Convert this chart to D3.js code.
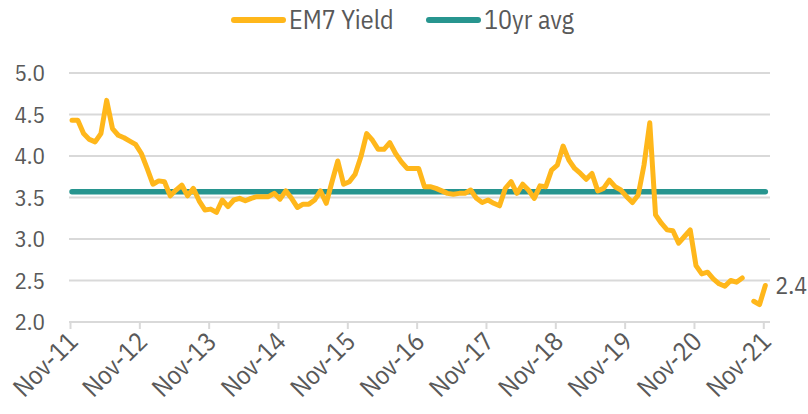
<!DOCTYPE html>
<html>
<head>
<meta charset="utf-8">
<script src="https://cdn.jsdelivr.net/npm/d3@7"></script>
<style>
  html, body { margin: 0; padding: 0; background: #fff; }
  svg text { font-family: "IBM Plex Sans Condensed", "Roboto Condensed", "Liberation Sans Narrow", "DejaVu Sans Condensed", Roboto, sans-serif; fill: #595959; }
</style>
</head>
<body>
<div id="chart"></div>
<script>
// ---------- data ----------
var tickLabels = ["Nov-11", "Nov-12", "Nov-13", "Nov-14", "Nov-15", "Nov-16",
                  "Nov-17", "Nov-18", "Nov-19", "Nov-20", "Nov-21"];
var yTicks = [2.0, 2.5, 3.0, 3.5, 4.0, 4.5, 5.0];
var seriesNames = ["EM7 Yield", "10yr avg"];

// monthly EM7 yield, Nov-11 .. Nov-21 (null = missing month)
var em7Yield = [
  4.43, 4.43, 4.27, 4.20, 4.17, 4.27, 4.67, 4.33, 4.25, 4.22, 4.18, 4.14,
  4.03, 3.85, 3.66, 3.70, 3.69, 3.52, 3.59, 3.65, 3.52, 3.61, 3.46, 3.35,
  3.36, 3.32, 3.47, 3.39, 3.47, 3.49, 3.46, 3.49, 3.51, 3.51, 3.51, 3.55,
  3.48, 3.58, 3.49, 3.38, 3.42, 3.42, 3.47, 3.58, 3.43, 3.69, 3.94, 3.66,
  3.69, 3.78, 3.99, 4.27, 4.19, 4.08, 4.08, 4.16, 4.03, 3.93, 3.85, 3.85,
  3.85, 3.63, 3.63, 3.61, 3.58, 3.55, 3.54, 3.55, 3.55, 3.59, 3.49, 3.44,
  3.47, 3.43, 3.40, 3.61, 3.69, 3.55, 3.66, 3.59, 3.49, 3.64, 3.63, 3.83,
  3.89, 4.12, 3.95, 3.85, 3.79, 3.72, 3.79, 3.58, 3.61, 3.71, 3.63, 3.59,
  3.51, 3.44, 3.53, 3.89, 4.40, 3.29, 3.19, 3.11, 3.10, 2.95, 3.03, 3.11,
  2.68, 2.58, 2.60, 2.52, 2.46, 2.43, 2.50, 2.48, 2.53, null, 2.25, 2.21,
  2.44
];
var avg10yr = 3.57;
var lastLabel = "2.4";

var colors = ["#ffb71b", "#27958f"];

// ---------- setup ----------
var width = 808, height = 414;
var svg = d3.select("#chart").append("svg")
    .attr("width", width)
    .attr("height", height);

var x = d3.scaleLinear().domain([0, 120]).range([70, 763.3]);
var y = d3.scaleLinear().domain([2, 5]).range([322, 73]);
var pointShift = 0.35; // points sit a little after the month tick

// ---------- gridlines ----------
svg.append("g")
   .selectAll("line")
   .data(yTicks)
   .enter().append("line")
   .attr("x1", 69).attr("x2", 770)
   .attr("y1", function(d) { return y(d); })
   .attr("y2", function(d) { return y(d); })
   .attr("stroke", "#d9d9d9")
   .attr("stroke-width", 2);

// ---------- y axis labels ----------
svg.append("g")
   .selectAll("text")
   .data(yTicks)
   .enter().append("text")
   .attr("x", 45)
   .attr("y", function(d) { return y(d); })
   .attr("dy", "0.35em")
   .attr("text-anchor", "end")
   .style("font-size", "23px")
   .text(function(d) { return d.toFixed(1); });

// ---------- x axis ----------
var xAxis = d3.axisBottom(x)
    .tickValues(d3.range(0, 121, 12))
    .tickSize(7)
    .tickFormat(function(d, i) { return tickLabels[i]; });

var gx = svg.append("g")
    .attr("transform", "translate(0," + y(2) + ")")
    .call(xAxis);
gx.select(".domain").remove();
gx.selectAll(".tick line").attr("stroke", "#d9d9d9").attr("stroke-width", 2);
gx.selectAll(".tick text")
  .attr("text-anchor", "end")
  .attr("dy", null)
  .attr("y", null)
  .attr("transform", "translate(9,21) rotate(-45)")
  .style("font-size", "26px")
  .style("font-family", null)
  .attr("fill", "#595959");

// ---------- 10yr average ----------
svg.append("line")
   .attr("x1", x(pointShift))
   .attr("x2", x(120 + pointShift))
   .attr("y1", y(avg10yr))
   .attr("y2", y(avg10yr))
   .attr("stroke", colors[1])
   .attr("stroke-width", 5.5)
   .attr("stroke-linecap", "round");

// ---------- EM7 yield ----------
var line = d3.line()
    .defined(function(d) { return d != null; })
    .x(function(d, i) { return x(i + pointShift); })
    .y(function(d) { return y(d); });

svg.append("path")
   .datum(em7Yield)
   .attr("d", line)
   .attr("fill", "none")
   .attr("stroke", colors[0])
   .attr("stroke-width", 5)
   .attr("stroke-linejoin", "round")
   .attr("stroke-linecap", "round");

// end label
svg.append("text")
   .attr("x", x(120 + pointShift) + 10)
   .attr("y", y(em7Yield[120]))
   .attr("dy", "0.35em")
   .style("font-size", "24px")
   .text(lastLabel);

// ---------- legend ----------
var legend = svg.append("g").attr("transform", "translate(231,20)");
var legendX = [0, 195];
seriesNames.forEach(function(name, i) {
  var g = legend.append("g").attr("transform", "translate(" + legendX[i] + ",0)");
  g.append("line")
   .attr("x1", 3).attr("x2", 52)
   .attr("stroke", colors[i])
   .attr("stroke-width", 6)
   .attr("stroke-linecap", "round");
  g.append("text")
   .attr("x", 58)
   .attr("dy", "0.35em")
   .style("font-size", "26px")
   .text(name);
});
</script>
</body>
</html>
